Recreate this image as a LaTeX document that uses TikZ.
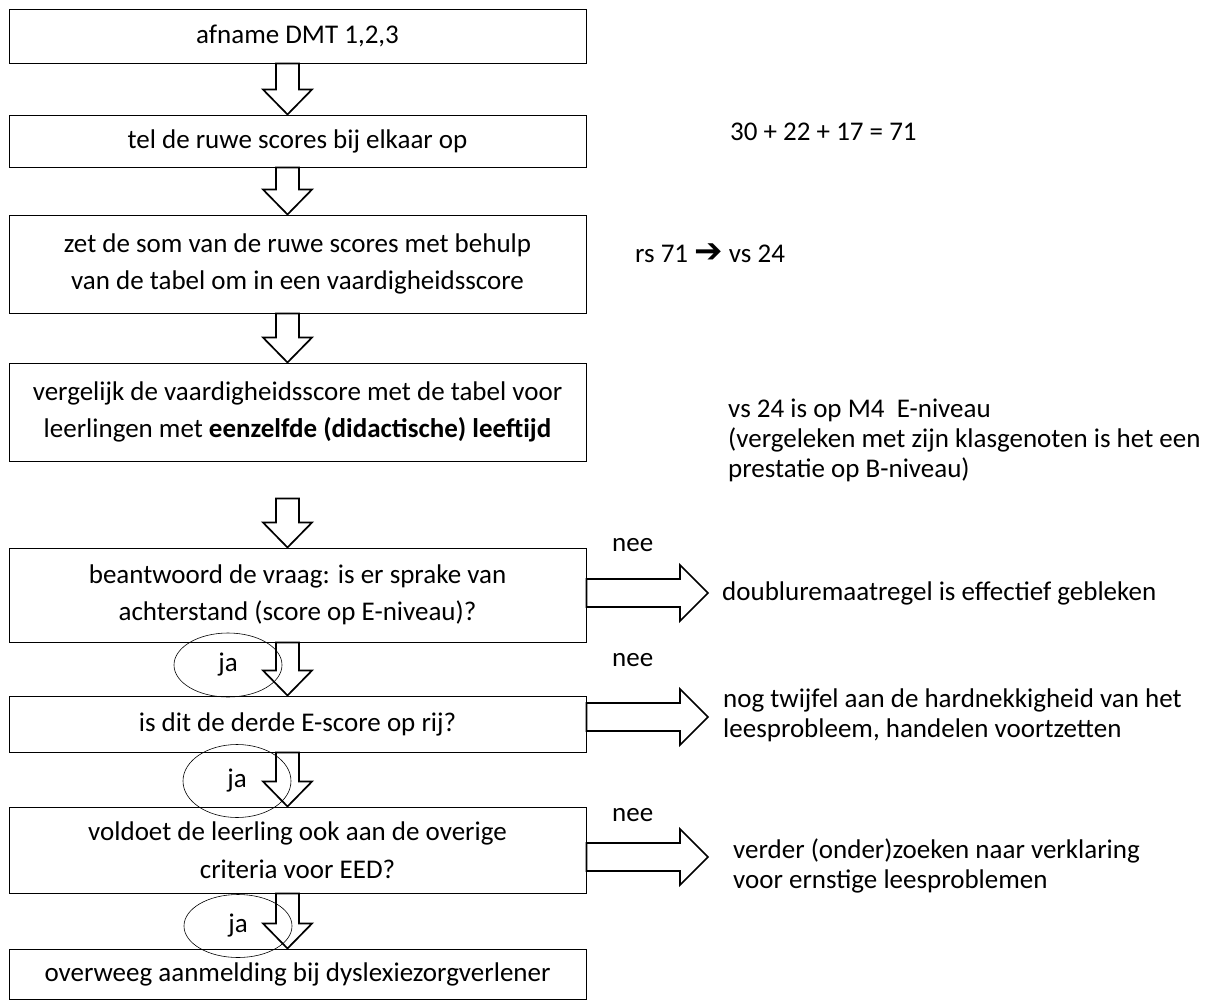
\documentclass[tikz,border=0pt]{standalone}
\usepackage{fontspec}
\setmainfont{Carlito}
\newfontfamily\pijlfont{DejaVu Sans}
\usetikzlibrary{calc,shapes.geometric}

\newcommand{\pijlneer}[2]{%
  \draw[blokpijl] let \p1=#1, \p2=#2 in
    (\x1-11.5pt,\y1) -- (\x1-11.5pt,\y2+25pt) -- (\x1-24.5pt,\y2+25pt) -- (\x1,\y2)
    -- (\x1+24.5pt,\y2+25pt) -- (\x1+11.5pt,\y2+25pt) -- (\x1+11.5pt,\y1) -- cycle;}
\newcommand{\pijlrechts}[2]{%
  \draw[blokpijl] let \p1=#1, \p2=#2 in
    (\x1,\y1+14pt) -- (\x2-28pt,\y1+14pt) -- (\x2-28pt,\y1+28pt) -- (\x2,\y1)
    -- (\x2-28pt,\y1-28pt) -- (\x2-28pt,\y1-14pt) -- (\x1,\y1-14pt) -- cycle;}

\begin{document}
\begin{tikzpicture}[x=1pt,y=-1pt,
    vak/.style={draw,line width=1pt,minimum width=577pt,align=center,inner sep=0pt,font=\fontsize{27}{37.5}\selectfont},
    blokpijl/.style={draw,fill=white,line width=1.7pt},
    ovaal/.style={draw,ellipse,line width=0.6pt,minimum width=108pt,inner sep=0pt,font=\fontsize{27}{32}\selectfont},
    notitie/.style={anchor=west,align=left,inner sep=0pt,font=\fontsize{27}{30}\selectfont}] %stroomschema DMT
    \useasboundingbox (0,0) rectangle (1205,1001);

    \node[vak,minimum height=54pt] (afname) at (297.5,36) {afname DMT 1,2,3};
    \node[vak,minimum height=52pt] (ruwe) at (297.5,141) {tel de ruwe scores bij elkaar op};
    \node[vak,minimum height=98pt] (som) at (297.5,264) {zet de som van de ruwe scores met behulp\\van de tabel om in een vaardigheidsscore};
    \node[vak,minimum height=98pt] (vergelijk) at (297.5,412) {vergelijk de vaardigheidsscore met de tabel voor\\leerlingen met \textbf{eenzelfde (didactische) leeftijd}};
    \node[vak,minimum height=94pt] (achterstand) at (297.5,595) {beantwoord de vraag: is er sprake van\\achterstand (score op E-niveau)?};
    \node[vak,minimum height=56pt] (derde) at (297.5,724) {is dit de derde E-score op rij?};
    \node[vak,minimum height=86pt] (criteria) at (297.5,850) {voldoet de leerling ook aan de overige\\criteria voor EED?};
    \node[vak,minimum height=50pt] (aanmelding) at (297.5,974) {overweeg aanmelding bij dyslexiezorgverlener};

    \node[notitie] (optellen) at (730,132) {30 + 22 + 17 = 71};
    \node[notitie] (omzetten) at (635,253) {rs 71 {\pijlfont\bfseries\fontsize{34}{34}\selectfont ➔} vs 24};
    \node[notitie] (niveau) at (728,440) {vs 24 is op M4\ \ E-niveau\\(vergeleken met zijn klasgenoten is het een\\prestatie op B-niveau)};
    \node[notitie] (doublure) at (722,593) {doubluremaatregel is effectief gebleken};
    \node[notitie] (twijfel) at (723,715) {nog twijfel aan de hardnekkigheid van het\\leesprobleem, handelen voortzetten};
    \node[notitie] (verklaring) at (733,866) {verder (onder)zoeken naar verklaring\\voor ernstige leesproblemen};

    \node[notitie] (nee1) at (612,545) {nee};
    \node[notitie] (nee2) at (612,660) {nee};
    \node[notitie] (nee3) at (612,815) {nee};

    \pijlneer{([xshift=-10pt]afname.south)}{(ruwe.north)}
    \pijlneer{([xshift=-10pt]ruwe.south)}{(som.north)}
    \pijlneer{([xshift=-10pt]som.south)}{(vergelijk.north)}
    \pijlneer{([xshift=-10pt,yshift=-37pt]vergelijk.south)}{(achterstand.north)}
    \pijlneer{([xshift=-10pt]achterstand.south)}{(derde.north)}
    \pijlneer{([xshift=-10pt]derde.south)}{(criteria.north)}
    \pijlneer{([xshift=-10pt]criteria.south)}{(aanmelding.north)}

    \pijlrechts{([yshift=2pt]achterstand.east)}{([xshift=-14pt]doublure.west)}
    \pijlrechts{([yshift=7pt]derde.east)}{([xshift=-15pt]twijfel.west)}
    \pijlrechts{([yshift=-7pt]criteria.east)}{([xshift=-25pt]verklaring.west)}

    \node[ovaal,minimum height=64pt] (ja1) at (228,665) {ja};
    \node[ovaal,minimum height=73pt] (ja2) at (237,781) {ja};
    \node[ovaal,minimum height=63pt] (ja3) at (238,926) {ja};
\end{tikzpicture}
\end{document}
